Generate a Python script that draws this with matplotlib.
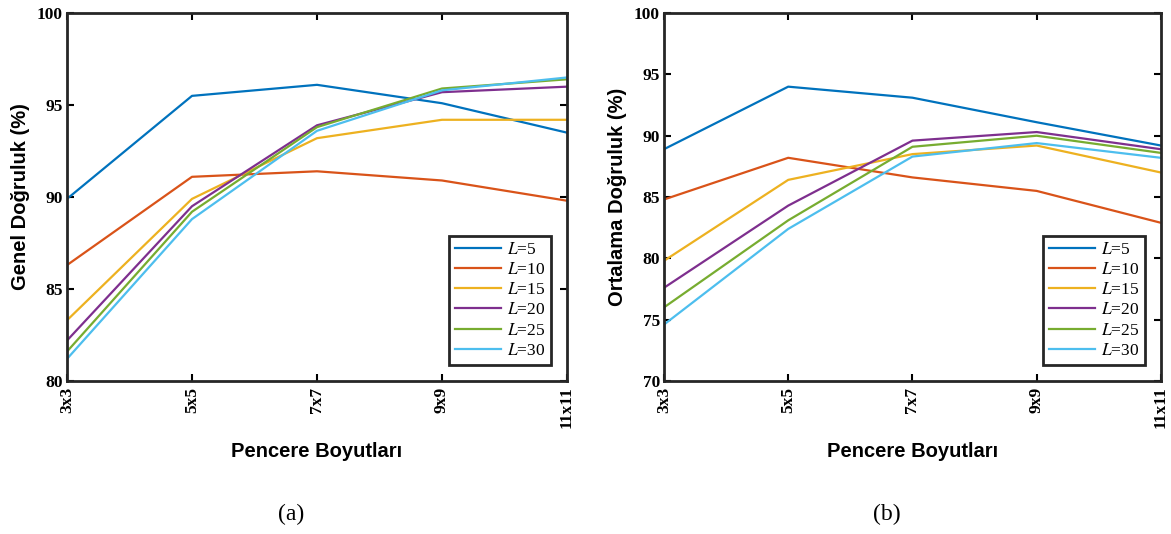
import matplotlib
matplotlib.use('Agg')
import matplotlib.pyplot as plt

# window sizes on the x axis
windows = ['3x3', '5x5', '7x7', '9x9', '11x11']
series_labels = ['$L$=5', '$L$=10', '$L$=15', '$L$=20', '$L$=25', '$L$=30']

# (a) overall accuracy
genel_L5 = [89.9, 95.5, 96.1, 95.1, 93.5]
genel_L10 = [86.3, 91.1, 91.4, 90.9, 89.8]
genel_L15 = [83.3, 89.9, 93.2, 94.2, 94.2]
genel_L20 = [82.2, 89.5, 93.9, 95.7, 96.0]
genel_L25 = [81.6, 89.2, 93.8, 95.9, 96.4]
genel_L30 = [81.2, 88.8, 93.6, 95.8, 96.5]

# (b) average accuracy
ort_L5 = [88.9, 94.0, 93.1, 91.1, 89.2]
ort_L10 = [84.8, 88.2, 86.6, 85.5, 82.9]
ort_L15 = [79.8, 86.4, 88.5, 89.2, 87.0]
ort_L20 = [77.6, 84.3, 89.6, 90.3, 88.9]
ort_L25 = [76.0, 83.1, 89.1, 90.0, 88.6]
ort_L30 = [74.6, 82.4, 88.3, 89.4, 88.2]

colors = ['#0072BD', '#D95319', '#EDB120', '#7E2F8E', '#77AC30', '#4DBEEE']

plt.rcParams['mathtext.fontset'] = 'stix'
serif = 'Liberation Serif'
sans = 'Liberation Sans'

fig = plt.figure(figsize=(11.71, 5.34), dpi=100)
ax1 = fig.add_axes([0.0572, 0.2865, 0.427, 0.689])
ax2 = fig.add_axes([0.567, 0.2865, 0.4244, 0.689])


def draw(ax, data, ymin, ylabel, caption, cap_x):
    x = list(range(len(windows)))
    for vals, c, lab in zip(data, colors, series_labels):
        ax.plot(x, vals, color=c, lw=1.6, label=lab)
    ax.set_xlim(0, len(windows) - 1)
    ax.set_ylim(ymin, 100)
    ax.set_yticks(list(range(ymin, 101, 5)))
    ax.set_xticks(x)
    ax.set_xticklabels(windows, rotation=90, family=serif, fontweight='bold', fontsize=12.5)
    for t in ax.get_yticklabels():
        t.set_family(serif)
        t.set_fontweight('bold')
        t.set_fontsize(12.5)
    ax.tick_params(direction='in', length=5, width=1.5, top=True, right=True)
    ax.tick_params(axis='x', pad=4)
    ax.tick_params(axis='y', pad=3)
    for s in ax.spines.values():
        s.set_linewidth(2)
        s.set_color('#262626')
    ax.set_xlabel('Pencere Boyutları', family=sans, fontweight='bold', fontsize=14.5, labelpad=10)
    ax.set_ylabel(ylabel, family=sans, fontweight='bold', fontsize=14.5, labelpad=5)
    leg = ax.legend(loc='lower right', prop={'family': serif, 'size': 12.5}, fancybox=False,
                    framealpha=1, borderpad=0.35, labelspacing=0.23, handlelength=2.65,
                    handletextpad=0.3, borderaxespad=0, bbox_to_anchor=(0.968, 0.044))
    leg.get_frame().set_edgecolor('#262626')
    leg.get_frame().set_linewidth(2)
    fig.text(cap_x, 1 - 514 / 534, caption, ha='center', va='center',
             family=serif, fontsize=17)


draw(ax1, [genel_L5, genel_L10, genel_L15, genel_L20, genel_L25, genel_L30], 80,
     'Genel Doğruluk (%)', '(a)', 291 / 1171)
draw(ax2, [ort_L5, ort_L10, ort_L15, ort_L20, ort_L25, ort_L30], 70,
     'Ortalama Doğruluk (%)', '(b)', 887 / 1171)

fig.savefig('out.png', dpi=100)
